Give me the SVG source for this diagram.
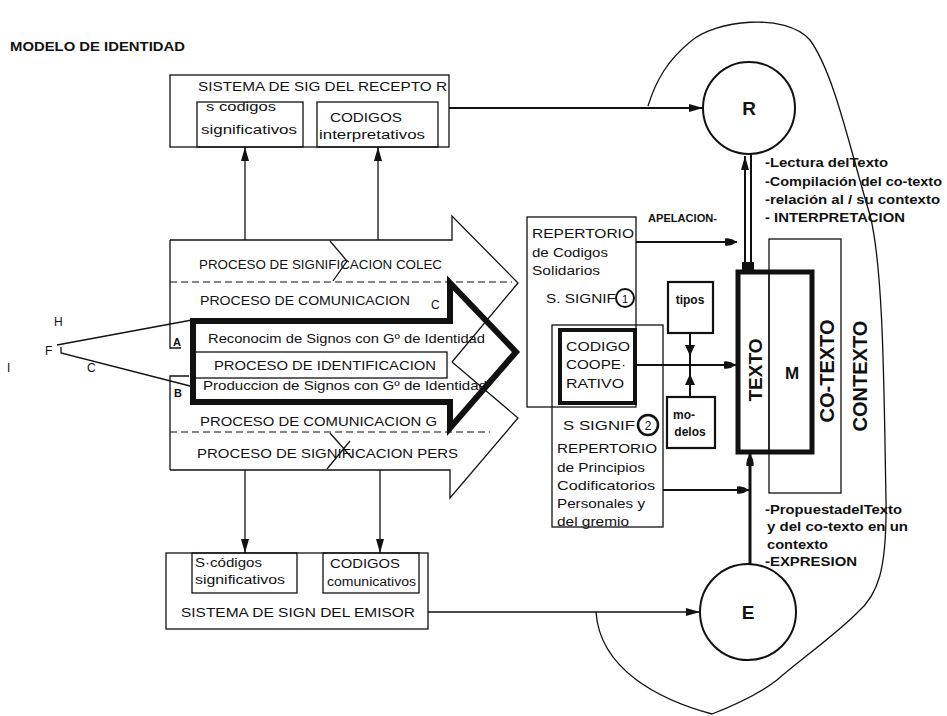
<svg xmlns="http://www.w3.org/2000/svg" width="947" height="716" viewBox="0 0 947 716">
<defs>
<style>
.t{font-family:"Liberation Sans",Arial,Helvetica,sans-serif;fill:#111}
.b{font-weight:bold}
.s{stroke:#111;fill:none;stroke-width:1.3}
.k{stroke:#111;fill:none;stroke-width:2}
.d{stroke:#111;fill:none;stroke-width:1.2;stroke-dasharray:7 4}
.f{fill:#111;stroke:none}
</style>
<marker id="ah" viewBox="0 0 14 8" refX="14" refY="4" markerWidth="14" markerHeight="8" markerUnits="userSpaceOnUse" orient="auto"><path d="M0,0 L14,4 L0,8 z" fill="#111"/></marker>
<marker id="bl" viewBox="0 0 12 9" refX="12" refY="4.5" markerWidth="12" markerHeight="9" markerUnits="userSpaceOnUse" orient="auto"><path d="M0,1 Q6,0 12,4.5 Q6,9 0,8 z" fill="#111"/></marker>
</defs>
<rect width="947" height="716" fill="#fff"/>

<g id="title">
<text class="t b" x="10" y="51" font-size="12" textLength="175" lengthAdjust="spacingAndGlyphs">MODELO DE IDENTIDAD</text>
</g>

<g id="sistema-receptor">
<rect class="s" x="170" y="75" width="279" height="72"/>
<rect class="s" x="197" y="102" width="106" height="45"/>
<rect class="s" x="317" y="102" width="121" height="45"/>
<text class="t" x="198" y="91" font-size="13" textLength="249" lengthAdjust="spacingAndGlyphs">SISTEMA DE SIG DEL RECEPTO R</text>
<text class="t" x="206" y="111" font-size="12" textLength="70" lengthAdjust="spacingAndGlyphs">s codigos</text>
<text class="t" x="201" y="134" font-size="12" textLength="96" lengthAdjust="spacingAndGlyphs">significativos</text>
<text class="t" x="330" y="122" font-size="13" textLength="72" lengthAdjust="spacingAndGlyphs">CODIGOS</text>
<text class="t" x="319" y="139" font-size="12" textLength="106" lengthAdjust="spacingAndGlyphs">interpretativos</text>
</g>

<g id="procesos">
<path class="s" d="M170,240 H452 V216 L518,283 L452,362"/>
<path class="s" d="M452,362 L518,418 L450,498 V470 H170"/>
<path class="s" d="M170,240 V348 H181 M189,376 H170 V470"/>
<path class="d" d="M170,282 H512"/>
<path class="d" d="M170,432 H490"/>
<path class="s" d="M330,241 L347,261 L333,281"/>
<path class="s" d="M330,433 L352,458 M350,441 L327,469"/>
<polygon points="193,321 450,321 450,283 516,352 450,428 450,402 193,402" fill="none" stroke="#111" stroke-width="6" stroke-linejoin="miter"/>
<rect class="s" x="193" y="352" width="254" height="26"/>
<text class="t" x="199" y="269" font-size="13" textLength="243" lengthAdjust="spacingAndGlyphs">PROCESO DE SIGNIFICACION  COLEC</text>
<text class="t" x="200" y="305" font-size="13" textLength="210" lengthAdjust="spacingAndGlyphs">PROCESO DE COMUNICACION</text>
<text class="t" x="431" y="309" font-size="12">C</text>
<text class="t" x="208" y="343" font-size="13" textLength="277" lengthAdjust="spacingAndGlyphs">Reconocim de Signos con Gº de Identidad</text>
<text class="t" x="214" y="370" font-size="13" textLength="222" lengthAdjust="spacingAndGlyphs">PROCESO DE IDENTIFICACION</text>
<text class="t" x="203" y="390" font-size="13" textLength="284" lengthAdjust="spacingAndGlyphs">Produccion de Signos con Gº de Identidad</text>
<text class="t" x="200" y="426" font-size="13" textLength="237" lengthAdjust="spacingAndGlyphs">PROCESO DE COMUNICACION  G</text>
<text class="t" x="197" y="458" font-size="13" textLength="261" lengthAdjust="spacingAndGlyphs">PROCESO DE SIGNIFICACION  PERS</text>
<text class="t b" x="173" y="346" font-size="11">A</text>
<text class="t b" x="174" y="397" font-size="11">B</text>
</g>

<g id="left-labels">
<text class="t" x="54" y="326" font-size="12">H</text>
<text class="t" x="45" y="355" font-size="12">F</text>
<text class="t" x="7" y="372" font-size="12">I</text>
<text class="t" x="87" y="372" font-size="12">C</text>
</g>

<g id="sistema-emisor">
<rect class="s" x="166" y="553" width="262" height="76"/>
<rect class="s" x="192" y="553" width="105" height="40"/>
<rect class="s" x="323" y="553" width="96" height="40"/>
<text class="t" x="195" y="567" font-size="12" textLength="67" lengthAdjust="spacingAndGlyphs">S·códigos</text>
<text class="t" x="195" y="584" font-size="12" textLength="90" lengthAdjust="spacingAndGlyphs">significativos</text>
<text class="t" x="330" y="568" font-size="13" textLength="70" lengthAdjust="spacingAndGlyphs">CODIGOS</text>
<text class="t" x="327" y="586" font-size="12" textLength="89" lengthAdjust="spacingAndGlyphs">comunicativos</text>
<text class="t" x="181" y="617" font-size="13" textLength="234" lengthAdjust="spacingAndGlyphs">SISTEMA DE SIGN DEL EMISOR</text>
</g>

<g id="contexto">
<path class="s" d="M648,106 C656,80 668,60 690,42 C715,20 785,12 810,40 C835,75 850,150 870,215 C884,270 884,400 886,500 C887,570 878,595 857,613 C835,635 800,660 777,680 C760,693 735,705 712,714 C660,700 600,670 596,612"/>
<text class="t b" transform="translate(860,376) rotate(-90)" text-anchor="middle" dominant-baseline="central" font-size="20">CONTEXTO</text>
</g>

<g id="co-texto">
<rect class="s" x="769" y="239" width="72" height="254"/>
<text class="t b" transform="translate(827,371) rotate(-90)" text-anchor="middle" dominant-baseline="central" font-size="20">CO-TEXTO</text>
</g>

<g id="texto">
<rect x="738" y="272" width="74" height="180" fill="none" stroke="#111" stroke-width="5"/>
<line class="s" x1="769" y1="272" x2="769" y2="452"/>
<text class="t b" transform="translate(755,370) rotate(-90)" text-anchor="middle" dominant-baseline="central" font-size="19">TEXTO</text>
<text class="t b" x="792" y="373" text-anchor="middle" dominant-baseline="central" font-size="17">M</text>
</g>

<g id="R">
<circle class="k" cx="749" cy="108" r="46"/>
<text class="t b" x="749" y="108" text-anchor="middle" dominant-baseline="central" font-size="19">R</text>
</g>

<g id="E">
<circle class="k" cx="748" cy="612" r="48"/>
<text class="t b" x="748" y="612" text-anchor="middle" dominant-baseline="central" font-size="19">E</text>
</g>

<g id="labels-R">
<text class="t b" x="765" y="167" font-size="12" textLength="123" lengthAdjust="spacingAndGlyphs">-Lectura delTexto</text>
<text class="t b" x="765" y="186" font-size="12" textLength="177" lengthAdjust="spacingAndGlyphs">-Compilación del co-texto</text>
<text class="t b" x="765" y="204" font-size="12" textLength="175" lengthAdjust="spacingAndGlyphs">-relación al / su  contexto</text>
<text class="t b" x="765" y="222" font-size="12" textLength="140" lengthAdjust="spacingAndGlyphs">- INTERPRETACION</text>
</g>

<g id="labels-E">
<text class="t b" x="765" y="514" font-size="12" textLength="137" lengthAdjust="spacingAndGlyphs">-PropuestadelTexto</text>
<text class="t b" x="767" y="531" font-size="12" textLength="141" lengthAdjust="spacingAndGlyphs">y del co-texto en un</text>
<text class="t b" x="767" y="549" font-size="12" textLength="61" lengthAdjust="spacingAndGlyphs">contexto</text>
<text class="t b" x="765" y="566" font-size="12" textLength="92" lengthAdjust="spacingAndGlyphs">-EXPRESION</text>
</g>

<g id="repertorio-solidarios">
<rect class="s" x="527" y="217" width="109" height="190"/>
<text class="t" x="532" y="238" font-size="13" textLength="102" lengthAdjust="spacingAndGlyphs">REPERTORIO</text>
<text class="t" x="532" y="257" font-size="13" textLength="76" lengthAdjust="spacingAndGlyphs">de Codigos</text>
<text class="t" x="532" y="275" font-size="13" textLength="68" lengthAdjust="spacingAndGlyphs">Solidarios</text>
<text class="t" x="546" y="303" font-size="13" textLength="70" lengthAdjust="spacingAndGlyphs">S. SIGNIF</text>
<circle cx="625" cy="298" r="9" fill="#fff" stroke="#111" stroke-width="2"/>
<text class="t" x="625" y="302.5" text-anchor="middle" font-size="11">1</text>
</g>

<g id="repertorio-principios">
<rect class="s" x="552" y="325" width="111" height="202"/>
<text class="t" x="563" y="430" font-size="13" textLength="72" lengthAdjust="spacingAndGlyphs">S  SIGNIF</text>
<circle cx="648" cy="425" r="10" fill="#fff" stroke="#111" stroke-width="2.5"/>
<text class="t" x="648" y="430" text-anchor="middle" font-size="12">2</text>
<text class="t" x="557" y="453" font-size="13" textLength="100" lengthAdjust="spacingAndGlyphs">REPERTORIO</text>
<text class="t" x="557" y="472" font-size="13" textLength="88" lengthAdjust="spacingAndGlyphs">de  Principios</text>
<text class="t" x="557" y="490" font-size="13" textLength="98" lengthAdjust="spacingAndGlyphs">Codificatorios</text>
<text class="t" x="557" y="508" font-size="13" textLength="88" lengthAdjust="spacingAndGlyphs">Personales y</text>
<text class="t" x="557" y="526" font-size="13" textLength="72" lengthAdjust="spacingAndGlyphs">del gremio</text>
</g>

<g id="codigo-cooperativo">
<rect x="560" y="330" width="75" height="73" fill="#fff" stroke="#111" stroke-width="4"/>
<text class="t" x="566" y="351" font-size="13" textLength="64" lengthAdjust="spacingAndGlyphs">CODIGO</text>
<text class="t" x="566" y="369" font-size="13" textLength="60" lengthAdjust="spacingAndGlyphs">COOPE·</text>
<text class="t" x="566" y="388" font-size="13" textLength="58" lengthAdjust="spacingAndGlyphs">RATIVO</text>
</g>

<g id="tipos">
<rect x="668" y="282" width="45" height="51" fill="none" stroke="#111" stroke-width="2.2"/>
<text class="t b" x="690" y="304" text-anchor="middle" font-size="12">tipos</text>
</g>

<g id="modelos">
<rect x="667" y="397" width="48" height="51" fill="none" stroke="#111" stroke-width="2.2"/>
<text class="t b" x="684" y="419" text-anchor="middle" font-size="12">mo-</text>
<text class="t b" x="690" y="436" text-anchor="middle" font-size="12">delos</text>
</g>

<g id="connectors">
<path class="k" d="M449,108 H703" marker-end="url(#ah)"/>
<path class="s" d="M428,612 H700" marker-end="url(#ah)"/>
<path class="s" d="M245,240 V147" marker-end="url(#ah)"/>
<path class="s" d="M378,240 V147" marker-end="url(#ah)"/>
<path class="s" d="M245,470 V553" marker-end="url(#ah)"/>
<path class="s" d="M380,470 V553" marker-end="url(#ah)"/>
<path class="s" d="M57,345 L192,320"/>
<path class="s" d="M61,347 V353 L190,386"/>
<path class="k" d="M636,242 H737" marker-end="url(#bl)"/>
<text class="t b" x="648" y="222" font-size="11" textLength="69" lengthAdjust="spacingAndGlyphs">APELACION-</text>
<path class="k" d="M635,365 H736" marker-end="url(#bl)"/>
<path class="k" d="M690,333 V397"/>
<path class="f" d="M685,345 L695,345 L690,356 z"/>
<path class="f" d="M685,385 L695,385 L690,374 z"/>
<path class="k" d="M663,490 H749" marker-end="url(#bl)"/>
<path class="k" d="M745,272 V156" marker-end="url(#ah)"/>
<path class="k" d="M751,272 V154"/>
<rect class="f" x="742" y="262" width="12" height="8"/>
<path stroke="#111" stroke-width="3" fill="none" d="M750,564 V454" marker-end="url(#bl)"/>
</g>
</svg>
